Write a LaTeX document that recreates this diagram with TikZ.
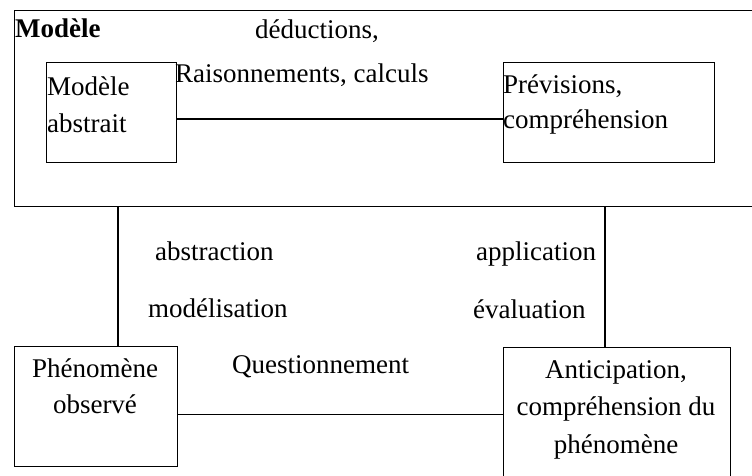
\documentclass[tikz,border=0pt]{standalone}
\usepackage{fontspec}
\setmainfont{Liberation Serif}
\begin{document}
\begin{tikzpicture}[x=1pt,y=-1pt,
  box/.style={draw,line width=1.1pt,inner sep=0pt,anchor=north west},
  lbl/.style={inner sep=0pt,font=\fontsize{27}{37}\selectfont},
  conn/.style={line width=1.1pt}]
\useasboundingbox[fill=white] (0,0) rectangle (752,475);
\clip (0,0) rectangle (752,475);
% boxes
\node[box,minimum width=746pt,minimum height=196pt] (outer) at (14,10) {};
\node[box,minimum width=130pt,minimum height=100pt] (abs) at (46,62) {};
\node[box,minimum width=211pt,minimum height=100pt] (prev) at (503,62) {};
\node[box,minimum width=163pt,minimum height=120pt] (phen) at (14,346) {};
\node[box,minimum width=227pt,minimum height=133pt] (anti) at (503,347) {};
% helper coordinates
\coordinate (ym) at (0,119);
\coordinate (xl) at (118,0);
\coordinate (xr) at (605,0);
% connectors
\draw[conn] (abs.east |- ym) -- (prev.west |- ym);
\draw[conn] (phen.east |- anti.west) -- (anti.west);
\draw[conn] (outer.south -| xl) -- (phen.north -| xl);
\draw[conn] (outer.south -| xr) -- (anti.north -| xr);
% texts
\node[lbl,anchor=base west,font=\fontsize{27}{37}\selectfont\bfseries] (tmod) at (15,37) {Modèle};
\node[lbl,anchor=base west] (tded) at (255,38) {déductions,};
\node[lbl,anchor=base west] (trais) at (175,82) {Raisonnements, calculs};
\node[lbl,anchor=base west,align=left] (tabs) at (47,132) {Modèle\\abstrait};
\node[lbl,anchor=base west,align=left,font=\fontsize{27}{35}\selectfont] (tprev) at (503,128) {Prévisions,\\compréhension};
\node[lbl,anchor=base west] (tabst) at (155,260) {abstraction};
\node[lbl,anchor=base west] (tmodl) at (148,317) {modélisation};
\node[lbl,anchor=base west] (tappl) at (476,260) {application};
\node[lbl,anchor=base west] (teval) at (473,318) {évaluation};
\node[lbl,anchor=base west] (tquest) at (232,373) {Questionnement};
\node[lbl,anchor=base,align=center,font=\fontsize{27}{36}\selectfont] (tphen) at (95,413) {Phénomène\\observé};
\node[lbl,anchor=base,align=center,font=\fontsize{27}{37.5}\selectfont] (tanti) at (616,453) {Anticipation,\\compréhension du\\phénomène};
\end{tikzpicture}
\end{document}
